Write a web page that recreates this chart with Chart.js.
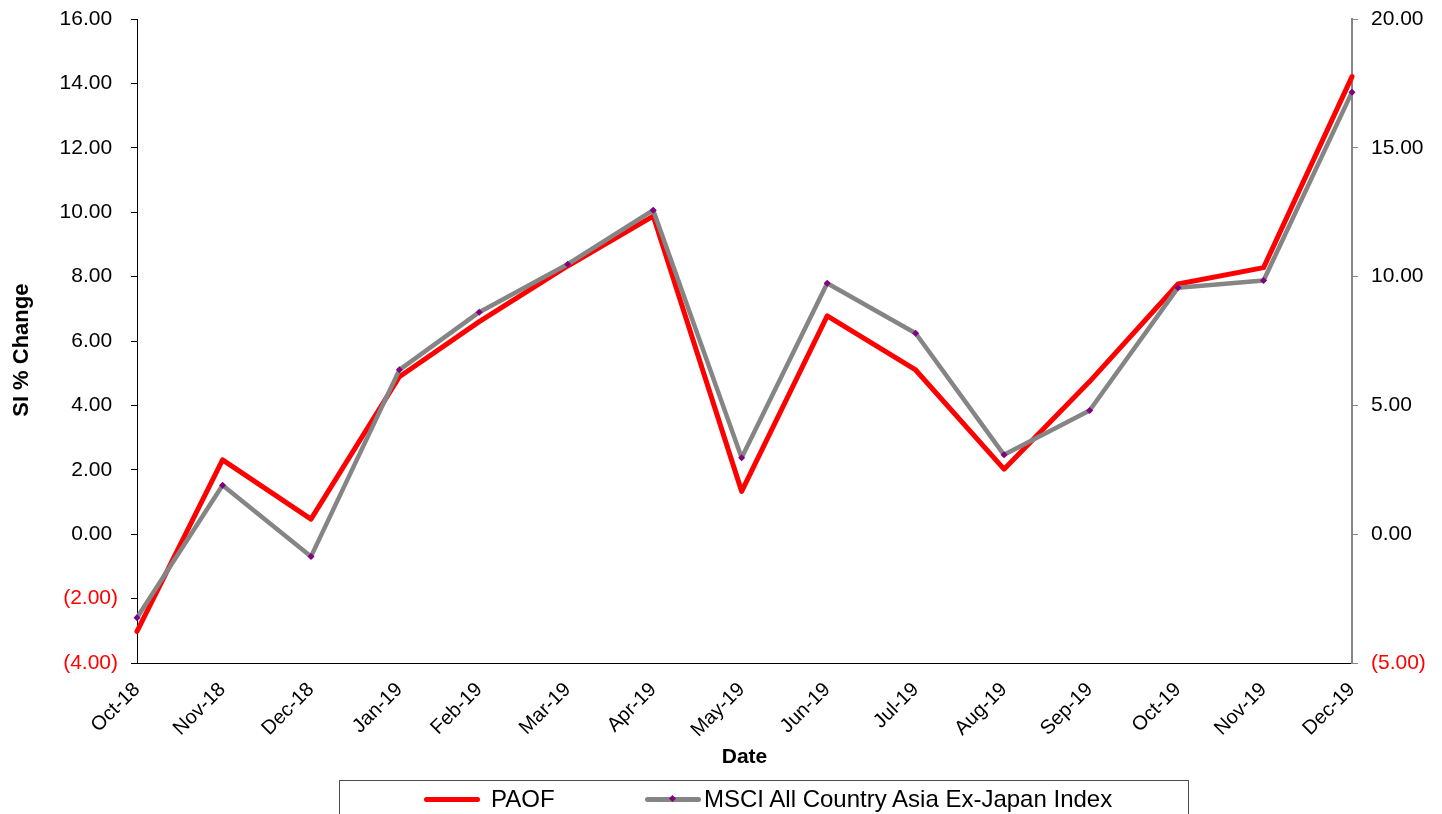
<!DOCTYPE html>
<html>
<head>
<meta charset="utf-8">
<title>SI % Change</title>
<script src="https://cdn.jsdelivr.net/npm/chart.js@4.4.1/dist/chart.umd.min.js"></script>
<style>
  html, body { margin: 0; padding: 0; background: #fff; overflow: hidden; }
  .wrap { position: relative; width: 1442px; height: 814px; }
  .legend-box {
    position: absolute;
    left: 339px;
    top: 780px;
    width: 850px;
    height: 60px;
    border: 1px solid #4d4d4d;
    box-sizing: border-box;
    font-family: "Liberation Sans", Arial, sans-serif;
    font-size: 24px;
    color: #000;
  }
  .legend-item {
    position: absolute;
    top: 4px;
    display: flex;
    align-items: center;
    height: 28px;
    white-space: nowrap;
  }
  .legend-swatch {
    position: relative;
    display: inline-block;
    width: 56px;
    height: 5px;
    border-radius: 3px;
  }
  .legend-dot {
    position: absolute;
    left: 25px;
    top: -1px;
    width: 5px;
    height: 5px;
    background: #800080;
    transform: rotate(45deg);
  }
</style>
</head>
<body>
<div class="wrap">
  <canvas id="trendChart"></canvas>
  <div class="legend-box" id="legendInline"></div>
</div>
<script>
// DATA
const dates = [
  "2018-10-31", "2018-11-30", "2018-12-31", "2019-01-31", "2019-02-28",
  "2019-03-31", "2019-04-30", "2019-05-31", "2019-06-30", "2019-07-31",
  "2019-08-31", "2019-09-30", "2019-10-31", "2019-11-30", "2019-12-31",
];
const monthLabels = [
  "Oct-18", "Nov-18", "Dec-18", "Jan-19", "Feb-19", "Mar-19", "Apr-19", "May-19",
  "Jun-19", "Jul-19", "Aug-19", "Sep-19", "Oct-19", "Nov-19", "Dec-19",
];
const paofValues = [-3.02, 2.31, 0.47, 4.89, 6.6, 8.33, 9.88, 1.33, 6.78, 5.1, 2.02, 4.74, 7.77, 8.28, 14.21];
const msciValues = [-3.24, 1.9, -0.87, 6.38, 8.62, 10.48, 12.58, 2.97, 9.74, 7.8, 3.08, 4.8, 9.57, 9.85, 17.16];
const seriesNames = ["PAOF", "MSCI All Country Asia Ex-Japan Index"];
const leftTicks = { min: -4, max: 16, step: 2 };
const rightTicks = { min: -5, max: 20, step: 5 };

const dayNums = dates.map((d) => Date.parse(d) / 86400000);
const font = "'Liberation Sans', Arial, sans-serif";

function fmt(v) {
  // accounting style: negatives in brackets, positives keep room for ")"
  return v < 0 ? "(" + Math.abs(v).toFixed(2) + ")" : v.toFixed(2) + " ";
}

function buildLegend(items) {
  const legend = document.getElementById("legendInline");
  legend.innerHTML = "";
  const lefts = [84, 305];
  items.forEach((ds, idx) => {
    const item = document.createElement("div");
    item.className = "legend-item";
    item.style.left = lefts[idx] + "px";
    const sw = document.createElement("span");
    sw.className = "legend-swatch";
    sw.style.background = ds.borderColor;
    sw.style.marginRight = idx === 0 ? "11px" : "3px";
    if (ds.pointRadius > 0) {
      const dot = document.createElement("span");
      dot.className = "legend-dot";
      sw.appendChild(dot);
    }
    const label = document.createElement("span");
    label.textContent = ds.label;
    item.appendChild(sw);
    item.appendChild(label);
    legend.appendChild(item);
  });
}

const datasets = [
  {
    label: seriesNames[0],
    data: paofValues.map((v, i) => ({ x: dayNums[i], y: v })),
    borderColor: "#ff0000",
    backgroundColor: "#ff0000",
    borderWidth: 5,
    borderJoinStyle: "round",
    borderCapStyle: "round",
    tension: 0,
    pointRadius: 0,
    yAxisID: "y",
    order: 2,
    clip: 8,
  },
  {
    label: seriesNames[1],
    data: msciValues.map((v, i) => ({ x: dayNums[i], y: v })),
    borderColor: "#858585",
    backgroundColor: "#800080",
    borderWidth: 4.5,
    borderJoinStyle: "round",
    borderCapStyle: "round",
    tension: 0,
    pointStyle: "rectRot",
    pointRadius: 3.5,
    pointBorderWidth: 0,
    pointBackgroundColor: "#800080",
    yAxisID: "y2",
    order: 1,
    clip: 8,
  },
];

// fixed box sizes so the plot area lands where the original one is
function fitVertical(width) {
  return (axis) => {
    axis.width = width;
    axis.paddingTop = 0;
    axis.paddingBottom = 0;
  };
}

const ctx = document.getElementById("trendChart").getContext("2d");
const chart = new Chart(ctx, {
  type: "line",
  data: { datasets },
  options: {
    responsive: true,
    maintainAspectRatio: false,
    animation: false,
    layout: { padding: { left: 0, right: 0, top: 19, bottom: 41 } },
    plugins: {
      legend: { display: false },
      tooltip: { enabled: false },
    },
    scales: {
      x: {
        type: "linear",
        min: dayNums[0],
        max: dayNums[dayNums.length - 1],
        afterBuildTicks: (axis) => {
          axis.ticks = dayNums.map((v) => ({ value: v }));
        },
        afterFit: (axis) => {
          axis.height = 110;
        },
        grid: { drawOnChartArea: false, drawTicks: false },
        border: { display: true, color: "#000", width: 1 },
        ticks: {
          autoSkip: false,
          minRotation: 45,
          maxRotation: 45,
          padding: 15,
          color: "#000",
          font: { family: font, size: 20 },
          callback: (value, index) => monthLabels[index],
        },
        title: {
          display: true,
          text: "Date",
          color: "#000",
          font: { family: font, size: 21, weight: "bold" },
          padding: { top: 4, bottom: 3 },
        },
      },
      y: {
        position: "left",
        min: leftTicks.min,
        max: leftTicks.max,
        afterFit: fitVertical(137),
        grid: { drawOnChartArea: false, drawTicks: true, tickLength: 6, color: "#000" },
        border: { display: true, color: "#000", width: 1 },
        ticks: {
          stepSize: leftTicks.step,
          padding: 13,
          font: { family: font, size: 21 },
          color: (c) => (c.tick && c.tick.value < 0 ? "#ff0000" : "#000"),
          callback: (v) => fmt(v),
        },
        title: {
          display: true,
          text: "SI % Change   ",
          color: "#000",
          font: { family: font, size: 22, weight: "bold" },
          padding: { top: 9, bottom: 0 },
        },
      },
      y2: {
        position: "right",
        min: rightTicks.min,
        max: rightTicks.max,
        afterFit: fitVertical(90),
        grid: { drawOnChartArea: false, drawTicks: true, tickLength: 6, color: "#868686" },
        border: { display: true, color: "#868686", width: 2 },
        ticks: {
          stepSize: rightTicks.step,
          padding: 13,
          font: { family: font, size: 21 },
          color: (c) => (c.tick && c.tick.value < 0 ? "#ff0000" : "#000"),
          callback: (v) => fmt(v),
        },
      },
    },
  },
});

buildLegend(datasets);
</script>
</body>
</html>
